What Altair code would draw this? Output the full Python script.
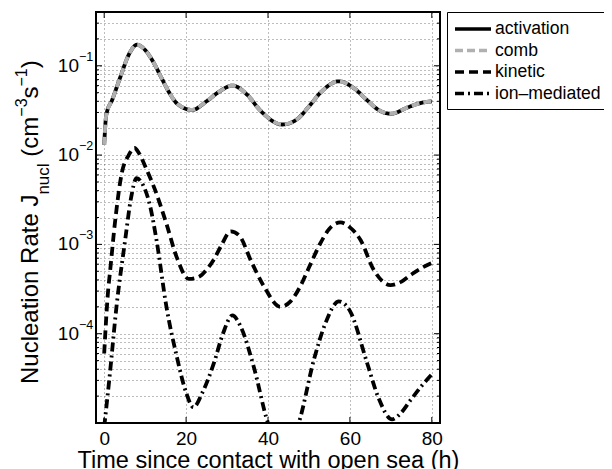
import altair as alt
import pandas as pd

FONT = "Liberation Sans"

# ---------------- data ----------------
series_names = ["activation", "comb", "kinetic", "ion–mediated"]

act_t = [0, 0.5, 2, 4, 6, 8, 10, 12, 14, 16, 18, 21.5, 25, 28, 31.3, 35, 38,
         43.5, 47, 50, 53, 57.3, 61, 64, 67, 70, 74, 77, 80]
act_j = [0.013, 0.028, 0.042, 0.076, 0.133, 0.172, 0.15, 0.11, 0.073, 0.049,
         0.037, 0.032, 0.040, 0.051, 0.060, 0.047, 0.032, 0.022, 0.025, 0.035,
         0.051, 0.067, 0.056, 0.042, 0.032, 0.029, 0.034, 0.038, 0.040]

kin_t = [0, 1, 1.4, 2.6, 4.3, 6, 7.4, 8.5, 10.4, 12.4, 15.2, 17.7, 20.7, 23,
         25, 26.8, 28.5, 30.9, 33, 36, 39, 43, 45.5, 47.9, 50, 52.8, 55, 57.7,
         60, 62.6, 65.8, 69.9, 72.5, 75, 78, 80]
kin_j = [6e-5, 3.2e-4, 4.8e-4, 1.7e-3, 6.3e-3, 1.0e-2, 1.2e-2, 1.05e-2,
         6.8e-3, 4.1e-3, 1.7e-3, 7.2e-4, 4.1e-4, 4.3e-4, 5.2e-4, 6.8e-4,
         9.5e-4, 1.4e-3, 1.25e-3, 6.3e-4, 3.4e-4, 2.0e-4, 2.3e-4, 3.4e-4,
         5.5e-4, 1.03e-3, 1.5e-3, 1.76e-3, 1.55e-3, 1.12e-3, 5.2e-4, 3.5e-4,
         3.8e-4, 4.6e-4, 5.6e-4, 6.2e-4]

ion_t = [0, 1.4, 3, 5.1, 6.5, 7.9, 9.5, 11.2, 12.8, 15.2, 17.7, 20, 21.8, 24,
         26.8, 29, 31.3, 33.5, 36.5, 40, 44, 47.5, 51.2, 54, 57.3, 60, 64.2,
         67, 70.3, 72.5, 74.8, 77.5, 80]
ion_j = [9e-6, 3.6e-5, 2.0e-4, 1.1e-3, 3.2e-3, 5.5e-3, 4.6e-3, 2.7e-3, 1.1e-3,
         2.0e-4, 5.6e-5, 2.2e-5, 1.5e-5, 2.2e-5, 4.7e-5, 1.0e-4, 1.6e-4,
         1.15e-4, 4.3e-5, 1.0e-5, 5e-6, 1.0e-5, 5.1e-5, 1.3e-4, 2.3e-4,
         1.8e-4, 4.7e-5, 1.9e-5, 1.1e-5, 1.3e-5, 1.8e-5, 2.6e-5, 3.5e-5]

x_ticks = [0, 20, 40, 60, 80]
y_major = [1e-5, 1e-4, 1e-3, 1e-2, 1e-1]
y_labels = [1e-4, 1e-3, 1e-2, 1e-1]
y_sup = ["−4", "−3", "−2", "−1"]
y_minor = [k * d for d in [1e-5, 1e-4, 1e-3, 1e-2, 1e-1]
           for k in range(2, 10) if k * d <= 0.4]

# ---------------- tables ----------------
rows = []
for name, ts, js in [("activation", act_t, act_j), ("comb", act_t, act_j),
                     ("kinetic", kin_t, kin_j), ("ion–mediated", ion_t, ion_j)]:
    for t, j in zip(ts, js):
        rows.append({"series": name, "t": t, "J": j})
df = pd.DataFrame(rows)

W, H = 344, 411
xscale = alt.Scale(domain=[-2, 82], nice=False, zero=False)
yscale = alt.Scale(type="log", domain=[1e-5, 0.4], nice=False)

grid_kw = dict(grid=True, gridDash=[1, 3], gridColor="black",
               gridOpacity=0.75, gridWidth=0.7)

XTITLE = "Time since contact with open sea (h)"
x_axis = alt.Axis(
    values=x_ticks, title=XTITLE,
    ticks=False, domain=False, labelFontSize=19, labelFont=FONT,
    labelColor="black", labelPadding=6, titleFontSize=23.5,
    titleFont=FONT, titleColor="black", titleFontWeight="normal",
    titlePadding=0, **grid_kw)
y_axis = alt.Axis(
    values=sorted(y_major + y_minor), labels=False, ticks=False,
    domain=False, title=None, **grid_kw)

legend = alt.Legend(
    title=None, orient="none", legendX=351, legendY=0,
    symbolType="M-1,0H3", symbolSize=324, symbolStrokeWidth=3.5,
    labelFontSize=17.6, labelFont=FONT, labelColor="black", labelOffset=20,
    strokeColor="black", fillColor="white", padding=6, rowPadding=1.5,
    labelLimit=300,
)

def X(field):
    return alt.X(field, scale=xscale, axis=x_axis, title=XTITLE)

def Y(field):
    return alt.Y(field, scale=yscale, axis=y_axis, title=None)

lines = alt.Chart(df).mark_line(clip=True, strokeWidth=3.8, interpolate="monotone").encode(
    x=X("t:Q"),
    y=Y("J:Q"),
    color=alt.Color("series:N", scale=alt.Scale(
        domain=series_names, range=["black", "#b0b0b0", "black", "black"]),
        legend=legend),
    strokeDash=alt.StrokeDash("series:N", scale=alt.Scale(
        domain=series_names, range=[[1, 0], [8, 4], [9, 5], [9, 4, 2, 4]]),
        legend=legend),
    detail="series:N",
)

xt = pd.DataFrame({"t": x_ticks})
yM = pd.DataFrame({"v": y_major})
ym = pd.DataFrame({"v": y_minor})

def xtick(y0, y1):
    return alt.Chart(xt).mark_rule(color="black", strokeWidth=1).encode(
        x=X("t:Q"), y=alt.value(y0), y2=alt.value(y1))

def ytick(d, x0, x1):
    return alt.Chart(d).mark_rule(color="black", strokeWidth=1).encode(
        y=Y("v:Q"), x=alt.value(x0), x2=alt.value(x1))

ticks = [xtick(H, H - 6), xtick(0, 6),
         ytick(yM, 0, 6), ytick(yM, W, W - 6),
         ytick(ym, 0, 3), ytick(ym, W, W - 3)]

ylab_df = pd.DataFrame({"v": y_labels, "sup": y_sup})
ylab10 = alt.Chart(ylab_df).mark_text(
    align="right", baseline="middle", fontSize=19, font=FONT, color="black"
).encode(y=Y("v:Q"), x=alt.value(-17), text=alt.value("10"))
ylabsup = alt.Chart(ylab_df).mark_text(
    align="left", baseline="middle", fontSize=12.5, font=FONT, color="black",
    dy=-9
).encode(y=Y("v:Q"), x=alt.value(-17), text="sup:N")

# y axis title built from pieces (main text, subscript, superscripts)
one = pd.DataFrame({"a": [0]})
def piece(txt, size, xpos, ypos):
    return alt.Chart(one).mark_text(
        text=txt, angle=270, align="left", baseline="alphabetic",
        fontSize=size, font=FONT, color="black"
    ).encode(x=alt.value(xpos), y=alt.value(ypos))

title_parts = [
    piece("Nucleation Rate J", 24, -58, 372),
    piece("nucl", 17, -47, 182.6),
    piece("(cm", 24, -58, 144.7),
    piece("−3", 16, -69, 104.7),
    piece("s", 24, -58, 86.5),
    piece("−1", 16, -69, 74.5),
    piece(")", 24, -58, 56.3),
]

chart = alt.layer(lines, *ticks, ylab10, ylabsup, *title_parts).properties(
    width=W, height=H,
    autosize=alt.AutoSizeParams(type="none"),
    padding={"left": 88, "top": 4, "right": 164, "bottom": 46},
).configure_view(stroke="black", strokeWidth=2)

chart.save("out.html", embed_options={"renderer": "svg", "actions": False})
